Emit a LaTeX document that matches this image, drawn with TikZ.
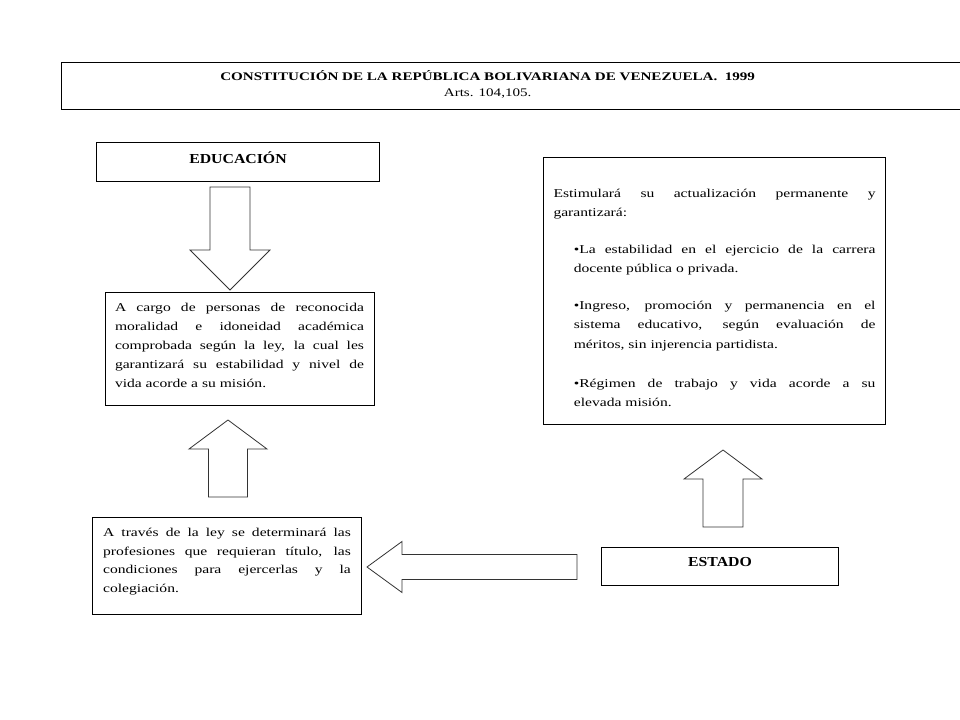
\documentclass[tikz,border=0pt]{standalone}
\usepackage{fontspec}
\setmainfont{Liberation Serif}[FakeStretch=1.3]
\newfontfamily\headfont{Liberation Serif}[FakeStretch=1.15]
\usepackage{tikz}
\tikzset{
  textbox/.style={draw=black, line width=0.75pt, inner ysep=0pt, anchor=north west,
                  font=\fontsize{9}{14.5}\selectfont},
  blockarr/.style={draw=black!80, line width=0.6pt, fill=white, line join=miter},
}
\newcommand{\firstline}{\rule{0pt}{9.5pt}}
% tip x, tip y, direction, length, head length, head half width, shaft half width
\newcommand{\blockarrow}[7]{%
  \draw[blockarr, shift={(#1,#2)}, rotate=#3]
    (0,0) -- (-#5,#6) -- (-#5,#7) -- (-#4,#7) -- (-#4,-#7) -- (-#5,-#7) -- (-#5,-#6) -- cycle;%
}

\begin{document}
\begin{tikzpicture}[x=0.75pt,y=0.75pt]
\path[fill=white] (0,0) rectangle (960,-720);
\useasboundingbox (0,0) rectangle (960,-720);
\node[textbox, inner xsep=0pt] (constitucion) at (61,-62)
  {\parbox[c][35.25pt][t]{677.25pt}{\vspace*{4pt}\centering\rightskip=38pt plus 1fil
   \fontsize{8.7}{12}\selectfont\firstline\textbf{CONSTITUCIÓN DE LA REPÚBLICA BOLIVARIANA DE VENEZUELA.~~1999}\\
   Arts. 104,105.}};
\node[textbox, inner xsep=0pt] (educacion) at (96,-142)
  {\parbox[c][29.25pt][t]{212.25pt}{\vspace*{6pt}\centering
   \headfont\fontsize{10.3}{12}\selectfont\firstline\textbf{EDUCACIÓN}}};
\node[textbox, inner xsep=7.5pt] (cargo) at (104.5,-292)
  {\parbox[c][84.75pt][t]{186.75pt}{\fontsize{9}{14.25}\selectfont\vspace*{4.5pt}\firstline
   A cargo de personas de reconocida\linebreak
   moralidad e idoneidad académica\linebreak
   comprobada según la ley, la cual les\linebreak
   garantizará su estabilidad y nivel de\linebreak
   vida acorde a su misión.}};
\node[textbox, inner xsep=7.5pt] (estimula) at (543,-157)
  {\parbox[c][200.25pt][t]{241.5pt}{\fontsize{9}{14.6}\selectfont\vspace*{20.5pt}\firstline
   Estimulará su actualización permanente y\linebreak garantizará:\par
   \vspace{12.5pt}
   \leftskip=15.25pt
   \textbullet La estabilidad en el ejercicio de la carrera\linebreak
   docente pública o privada.\par
   \vspace{13pt}
   \textbullet Ingreso, promoción y permanencia en el\linebreak
   sistema educativo, según evaluación de\linebreak
   méritos, sin injerencia partidista.\par
   \vspace{14.5pt}
   \textbullet Régimen de trabajo y vida acorde a su\linebreak
   elevada misión.}};
\node[textbox, inner xsep=8pt] (traves) at (92,-517)
  {\parbox[c][72.75pt][t]{185.75pt}{\fontsize{9}{14}\selectfont\vspace*{4.75pt}\firstline
   A través de la ley se determinará las\linebreak
   profesiones que requieran título, las\linebreak
   condiciones para ejercerlas y la\linebreak
   colegiación.}};
\node[textbox, inner xsep=0pt] (estado) at (601,-547)
  {\parbox[c][28.5pt][t]{177.75pt}{\vspace*{4.75pt}\centering
   \headfont\fontsize{10.3}{12}\selectfont\firstline\textbf{ESTADO}}};
% block arrows
\blockarrow{230}{-290}{-90}{103}{40}{40}{20}
\blockarrow{228}{-420}{90}{77}{29}{39}{19.5}
\blockarrow{723}{-450}{90}{77}{29}{39}{20}
\blockarrow{367}{-567}{180}{210}{35}{25.5}{12.5}
\end{tikzpicture}
\end{document}
